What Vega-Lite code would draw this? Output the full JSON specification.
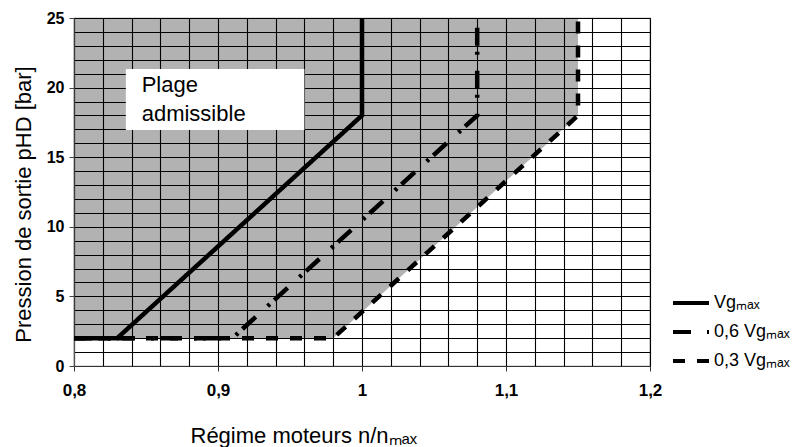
{
  "$schema": "https://vega.github.io/schema/vega-lite/v6.json",
  "width": 576,
  "height": 348,
  "autosize": "none",
  "padding": {"left": 74, "top": 18, "right": 146, "bottom": 81},
  "background": "white",
  "config": {
    "font": "Liberation Sans",
    "view": {"stroke": "#777777", "strokeWidth": 1.2},
    "axis": {"labelColor": "black", "titleColor": "black", "titleFontWeight": "normal"},
    "legend": {
      "orient": "none",
      "legendX": 597,
      "legendY": 265,
      "title": null,
      "labelFontSize": 18,
      "labelColor": "black",
      "labelFont": "Liberation Sans",
      "symbolType": "stroke",
      "symbolSize": 1296,
      "symbolStrokeWidth": 4,
      "symbolStrokeColor": "black",
      "labelOffset": 3,
      "rowPadding": -12
    }
  },
  "datasets": {
    "region": [
      {"x": 0.8, "lo": 2, "hi": 25},
      {"x": 0.98, "lo": 2, "hi": 25},
      {"x": 1.15, "lo": 18, "hi": 25}
    ],
    "box": [{"x": 0.836, "x2": 0.96, "y": 21.34, "y2": 16.95}],
    "label": [{"x": 0.847, "y": 19.68, "text": "Plage\nadmissible"}],
    "curves": [
      {"serie": "Vgₘₐₓ", "i": 1, "x": 0.8, "y": 2},
      {"serie": "Vgₘₐₓ", "i": 2, "x": 0.83, "y": 2},
      {"serie": "Vgₘₐₓ", "i": 3, "x": 1.0, "y": 18},
      {"serie": "Vgₘₐₓ", "i": 4, "x": 1.0, "y": 25},
      {"serie": "0,6 Vgₘₐₓ", "i": 1, "x": 0.8, "y": 2},
      {"serie": "0,6 Vgₘₐₓ", "i": 2, "x": 0.91, "y": 2},
      {"serie": "0,6 Vgₘₐₓ", "i": 3, "x": 1.08, "y": 18},
      {"serie": "0,6 Vgₘₐₓ", "i": 4, "x": 1.08, "y": 25},
      {"serie": "0,3 Vgₘₐₓ", "i": 1, "x": 0.8, "y": 2},
      {"serie": "0,3 Vgₘₐₓ", "i": 2, "x": 0.98, "y": 2},
      {"serie": "0,3 Vgₘₐₓ", "i": 3, "x": 1.15, "y": 18},
      {"serie": "0,3 Vgₘₐₓ", "i": 4, "x": 1.15, "y": 25}
    ]
  },
  "resolve": {"axis": {"x": "independent", "y": "independent"}},
  "layer": [
    {
      "data": {"name": "region"},
      "mark": {"type": "area", "fill": "black", "fillOpacity": 0.3, "stroke": null},
      "encoding": {
        "x": {
          "field": "x", "type": "quantitative",
          "scale": {"domain": [0.8, 1.2], "nice": false, "zero": false},
          "axis": {
            "orient": "bottom",
            "values": [0.8, 0.82, 0.84, 0.86, 0.88, 0.9, 0.92, 0.94, 0.96, 0.98, 1.0, 1.02, 1.04, 1.06, 1.08, 1.1, 1.12, 1.14, 1.16, 1.18, 1.2],
            "grid": true, "gridColor": "#000000", "gridOpacity": 1, "gridWidth": 1.1,
            "labels": false, "ticks": false, "domain": false, "title": null
          }
        },
        "y": {
          "field": "lo", "type": "quantitative",
          "scale": {"domain": [0, 25], "nice": false, "zero": true},
          "axis": {
            "orient": "left",
            "values": [0, 1, 2, 3, 4, 5, 6, 7, 8, 9, 10, 11, 12, 13, 14, 15, 16, 17, 18, 19, 20, 21, 22, 23, 24, 25],
            "grid": true, "gridColor": "#000000", "gridOpacity": 1, "gridWidth": 1.1,
            "labels": false, "ticks": false, "domain": false, "title": null
          }
        },
        "y2": {"field": "hi"}
      }
    },
    {
      "data": {"name": "box"},
      "mark": {"type": "rect", "fill": "white", "stroke": null},
      "encoding": {
        "x": {
          "field": "x", "type": "quantitative",
          "axis": {
            "orient": "bottom",
            "values": [0.8, 0.9, 1.0, 1.1, 1.2],
            "grid": false,
            "labelFlush": false,
            "labelExpr": "replace(format(datum.value, '.1~f'), '.', ',')",
            "labelFontSize": 17, "labelFontWeight": "bold", "labelPadding": 11,
            "tickSize": 5, "tickColor": "#333333", "domainColor": "#333333", "domainWidth": 1.2,
            "title": "Régime moteurs n/nₘₐₓ",
            "titleFontSize": 22, "titleFontWeight": "normal",
            "titleX": 116, "titleY": 76, "titleAlign": "left", "titleBaseline": "alphabetic"
          }
        },
        "x2": {"field": "x2"},
        "y": {
          "field": "y", "type": "quantitative",
          "axis": {
            "orient": "left",
            "values": [0, 5, 10, 15, 20, 25],
            "grid": false,
            "labelFlush": false,
            "labelFontSize": 16, "labelFontWeight": "bold", "labelPadding": 5,
            "tickSize": 5, "tickColor": "#444444", "domainColor": "#555555", "domainWidth": 1.2,
            "title": "Pression de sortie pHD [bar]",
            "titleFontSize": 22, "titleFontWeight": "normal",
            "titleX": -44, "titleY": 186, "titleAngle": -90, "titleAlign": "center", "titleBaseline": "alphabetic"
          }
        },
        "y2": {"field": "y2"}
      }
    },
    {
      "data": {"name": "label"},
      "mark": {"type": "text", "align": "left", "baseline": "alphabetic", "fontSize": 22, "lineBreak": "\n", "lineHeight": 29, "color": "black", "font": "Liberation Sans"},
      "encoding": {
        "x": {"field": "x", "type": "quantitative", "axis": null},
        "y": {"field": "y", "type": "quantitative", "axis": null},
        "text": {"field": "text"}
      }
    },
    {
      "data": {"name": "curves"},
      "mark": {"type": "line", "color": "black", "strokeWidth": 4.5},
      "encoding": {
        "x": {"field": "x", "type": "quantitative", "axis": null},
        "y": {"field": "y", "type": "quantitative", "axis": null},
        "order": {"field": "i", "type": "quantitative"},
        "strokeDash": {
          "field": "serie", "type": "nominal",
          "scale": {"domain": ["Vgₘₐₓ", "0,6 Vgₘₐₓ", "0,3 Vgₘₐₓ"], "range": [[1, 0], [18, 16, 3, 6], [12, 12]]},
          "legend": {}
        }
      }
    }
  ]
}
